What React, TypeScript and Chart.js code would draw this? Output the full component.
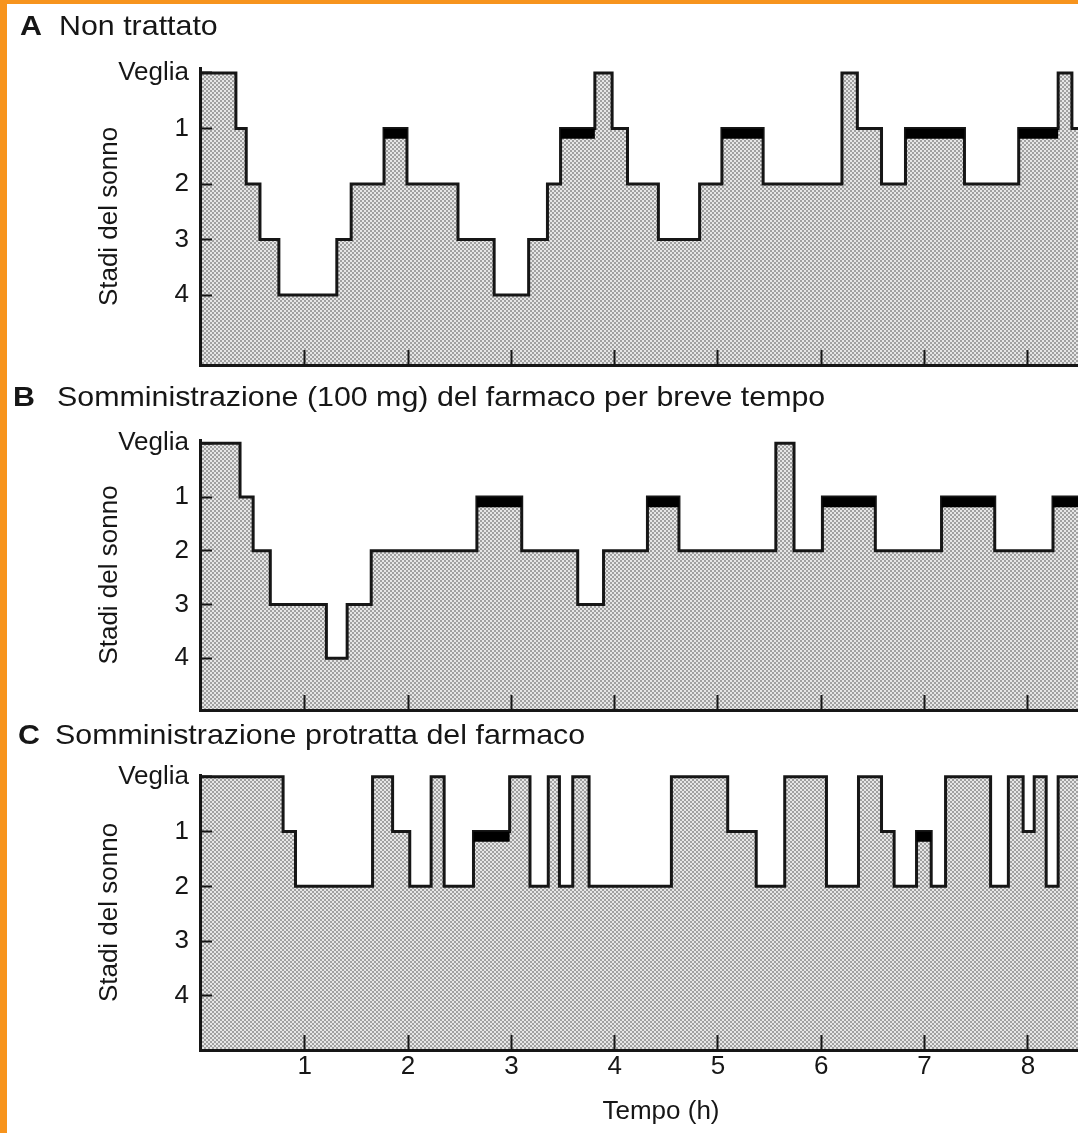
import React, { useEffect, useRef } from 'react';
import { Chart, registerables } from 'chart.js';

Chart.register(...registerables);

// ---------- data ----------
const stageTicks = [0, 1, 2, 3, 4];
const stageLabels = ['Veglia', '1', '2', '3', '4'];
const hourTicks = [1, 2, 3, 4, 5, 6, 7, 8];

const titleA = 'Non trattato';
const titleB = 'Somministrazione (100 mg) del farmaco per breve tempo';
const titleC = 'Somministrazione protratta del farmaco';
const yTitle = 'Stadi del sonno';
const xTitle = 'Tempo (h)';

// onset time of each stage (h) and the stage (0 = Veglia)
const timesA = [0, 0.333, 0.433, 0.566, 0.749, 1.31, 1.449, 1.767, 1.989, 2.483, 2.833, 3.167, 3.349, 3.476, 3.808, 3.975, 4.124, 4.423, 4.822, 5.038, 5.437, 6.2, 6.349, 6.583, 6.815, 7.386, 7.911, 8.293, 8.426, 8.5];
const stagesA = [0, 1, 2, 3, 4, 3, 2, 1, 2, 3, 4, 3, 2, 1, 0, 1, 2, 3, 2, 1, 2, 0, 1, 2, 1, 2, 1, 0, 1, 1];
const remA: [number, number][] = [[1.767, 1.989], [3.476, 3.808], [5.038, 5.437], [6.815, 7.386], [7.911, 8.293]];

const timesB = [0, 0.373, 0.5, 0.666, 1.209, 1.41, 1.643, 2.666, 3.1, 3.642, 3.892, 4.317, 4.622, 5.56, 5.736, 6.011, 6.523, 7.164, 7.679, 8.243, 8.5];
const stagesB = [0, 1, 2, 3, 4, 3, 2, 1, 2, 3, 2, 1, 2, 0, 2, 1, 2, 1, 2, 1, 1];
const remB: [number, number][] = [[2.666, 3.1], [4.317, 4.622], [6.011, 6.523], [7.164, 7.679], [8.243, 8.5]];

const timesC = [0, 0.79, 0.91, 1.656, 1.85, 2.016, 2.223, 2.349, 2.633, 2.983, 3.18, 3.357, 3.465, 3.594, 3.752, 4.549, 5.094, 5.37, 5.646, 6.05, 6.36, 6.583, 6.705, 6.922, 7.064, 7.203, 7.639, 7.811, 7.954, 8.061, 8.177, 8.293, 8.5];
const stagesC = [0, 1, 2, 0, 1, 2, 0, 2, 1, 0, 2, 0, 2, 0, 2, 0, 1, 2, 0, 2, 0, 1, 2, 1, 2, 0, 2, 0, 1, 0, 2, 0, 0];
const remC: [number, number][] = [[2.633, 2.983], [6.922, 7.064]];

// ---------- style ----------
const INK = '#161616';
const FONT = '"Liberation Sans", Arial, Helvetica, sans-serif';
const ORANGE = '#f7941d';
const X_MIN = -0.0145;
const X_MAX = 8.911;
const CANVAS_W = 1122;
const REM_LEVEL = 1.095;
const PAD_TOP = 40;

function makePattern(ctx: CanvasRenderingContext2D) {
  const tile = document.createElement('canvas');
  tile.width = 4;
  tile.height = 4;
  const t = tile.getContext('2d')!;
  t.fillStyle = '#e6e6e6';
  t.fillRect(0, 0, 4, 4);
  t.fillStyle = '#a0a0a0';
  t.fillRect(0, 0, 2, 2);
  t.fillRect(2, 2, 2, 2);
  return ctx.createPattern(tile, 'repeat');
}

function buildConfig(
  times: number[],
  stages: number[],
  rem: [number, number][],
  yMin: number,
  yMax: number,
  xAxisHeight: number,
  showX: boolean,
  pattern: CanvasPattern | null
): any {
  const hypno = times.map((t, i) => ({ x: t, y: stages[i] }));
  const remData: any[] = [];
  rem.forEach(([a, b]) => {
    remData.push({ x: a, y: REM_LEVEL }, { x: b, y: REM_LEVEL }, { x: b, y: null });
  });
  const font = { family: FONT, size: 26 };
  return {
    type: 'line',
    data: {
      datasets: [
        {
          label: 'REM',
          data: remData,
          borderColor: '#000',
          borderWidth: 10,
          borderCapStyle: 'butt',
          pointRadius: 0,
          fill: false,
          spanGaps: false,
        },
        {
          label: 'Stadi',
          data: hypno,
          stepped: true,
          borderColor: INK,
          borderWidth: 3,
          borderJoinStyle: 'miter',
          borderCapStyle: 'butt',
          pointRadius: 0,
          fill: 'start',
          backgroundColor: pattern || '#c0c0c0',
        },
      ],
    },
    options: {
      animation: false,
      responsive: false,
      maintainAspectRatio: false,
      events: [],
      layout: { padding: { top: PAD_TOP, left: 0, right: 0, bottom: 0 } },
      plugins: {
        legend: { display: false },
        tooltip: { enabled: false },
        title: { display: false },
      },
      scales: {
        x: {
          type: 'linear',
          min: X_MIN,
          max: X_MAX,
          afterBuildTicks: (s: any) => {
            s.ticks = hourTicks.map((v) => ({ value: v }));
          },
          afterFit: (s: any) => {
            s.height = xAxisHeight;
          },
          grid: {
            drawOnChartArea: false,
            drawTicks: true,
            tickLength: -15,
            tickWidth: 2,
            tickColor: INK,
            z: 1,
          },
          border: { display: true, color: INK, width: 3, z: 1 },
          ticks: {
            display: showX,
            autoSkip: false,
            maxRotation: 0,
            padding: 16,
            color: INK,
            font,
            callback: (v: any) => String(v),
          },
          title: {
            display: showX,
            text: xTitle,
            color: INK,
            font,
            padding: { top: 0, bottom: 6 },
          },
        },
        y: {
          type: 'linear',
          reverse: true,
          min: yMin,
          max: yMax,
          afterBuildTicks: (s: any) => {
            s.ticks = stageTicks.map((v) => ({ value: v }));
          },
          afterFit: (s: any) => {
            s.width = 200;
          },
          grid: {
            drawOnChartArea: false,
            drawTicks: true,
            tickLength: -12,
            tickWidth: 2,
            tickColor: INK,
            z: 1,
          },
          border: { display: true, color: INK, width: 3, z: 1 },
          ticks: {
            autoSkip: false,
            padding: 23,
            color: INK,
            font,
            callback: (v: any) => stageLabels[stageTicks.indexOf(Number(v))],
          },
          title: {
            display: true,
            text: yTitle,
            color: INK,
            font,
            padding: { top: 94, bottom: 0 },
          },
        },
      },
    },
  };
}

function Title({ letter, text, top, letterLeft, textLeft }: { letter: string; text: string; top: number; letterLeft: number; textLeft: number }) {
  const common: React.CSSProperties = {
    position: 'absolute',
    top,
    fontFamily: FONT,
    fontSize: 28,
    lineHeight: '28px',
    color: INK,
    whiteSpace: 'nowrap',
    transform: 'scaleX(1.085)',
    transformOrigin: 'left top',
  };
  return (
    <>
      <div style={{ ...common, left: letterLeft, fontWeight: 'bold' }}>{letter}</div>
      <div style={{ ...common, left: textLeft }}>{text}</div>
    </>
  );
}

// page geometry of each panel: axis top, axis bottom
const panels = [
  { top: 68, bottom: 365, xh: 40 },
  { top: 440, bottom: 710, xh: 40 },
  { top: 775, bottom: 1050, xh: 83 },
];

export default function App() {
  const refA = useRef<HTMLCanvasElement>(null);
  const refB = useRef<HTMLCanvasElement>(null);
  const refC = useRef<HTMLCanvasElement>(null);

  useEffect(() => {
    const charts: Chart[] = [];
    const specs: [React.RefObject<HTMLCanvasElement>, number[], number[], [number, number][], number, number, number, boolean][] = [
      [refA, timesA, stagesA, remA, -0.09, 5.26, panels[0].xh, false],
      [refB, timesB, stagesB, remB, -0.061, 4.962, panels[1].xh, false],
      [refC, timesC, stagesC, remC, -0.031, 4.985, panels[2].xh, true],
    ];
    specs.forEach(([ref, t, s, r, ymin, ymax, xh, showX]) => {
      const cv = ref.current;
      if (!cv) return;
      const ctx = cv.getContext('2d')!;
      const pattern = makePattern(ctx);
      charts.push(new Chart(ctx, buildConfig(t, s, r, ymin, ymax, xh, showX, pattern)));
    });
    return () => charts.forEach((c) => c.destroy());
  }, []);

  const geom = panels.map((p) => {
    const top = p.top - PAD_TOP;
    const h = p.bottom - top + p.xh;
    return { top, h };
  });

  const canvasStyle = (top: number, h: number): React.CSSProperties => ({
    position: 'absolute',
    left: 0,
    top,
    width: CANVAS_W,
    height: h,
  });

  return (
    <div
      style={{
        position: 'fixed',
        left: 0,
        top: 0,
        width: 1078,
        height: 1133,
        overflow: 'hidden',
        background: '#ffffff',
      }}
    >
      <canvas ref={refA} width={CANVAS_W} height={geom[0].h} style={canvasStyle(geom[0].top, geom[0].h)} />
      <canvas ref={refB} width={CANVAS_W} height={geom[1].h} style={canvasStyle(geom[1].top, geom[1].h)} />
      <canvas ref={refC} width={CANVAS_W} height={geom[2].h} style={canvasStyle(geom[2].top, geom[2].h)} />
      <Title letter="A" text={titleA} top={12} letterLeft={20} textLeft={59} />
      <Title letter="B" text={titleB} top={383} letterLeft={13} textLeft={57} />
      <Title letter="C" text={titleC} top={721} letterLeft={18} textLeft={55} />
      <div style={{ position: 'absolute', left: 0, top: 0, width: 7, height: 1133, background: ORANGE }} />
      <div style={{ position: 'absolute', left: 0, top: 0, width: 1078, height: 4, background: ORANGE }} />
    </div>
  );
}
